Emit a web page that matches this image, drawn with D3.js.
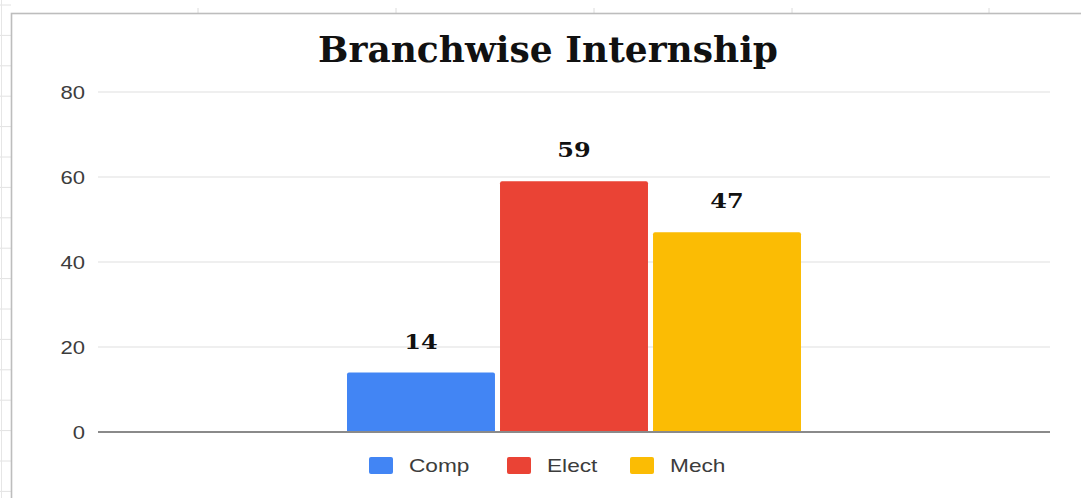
<!DOCTYPE html>
<html>
<head>
<meta charset="utf-8">
<script src="https://cdn.jsdelivr.net/npm/d3@7/dist/d3.min.js"></script>
<style>
  html, body { margin: 0; padding: 0; background: #fff; }
  svg { display: block; }
</style>
</head>
<body>
<svg id="chart" width="1081" height="498"></svg>
<script>
// ---- data ----
const title = "Branchwise Internship";
const categories = ["Comp", "Elect", "Mech"];
const values = [14, 59, 47];
const colors = ["#4285F4", "#EA4335", "#FBBC04"];
const yTicks = [0, 20, 40, 60, 80];

const svg = d3.select("#chart");
const W = 1081, H = 498;
const SX = 1.26; // horizontal stretch of the screenshot text

// ---- spreadsheet background ----
const bg = svg.append("g");
const rowYs = d3.range(5, 498, 30.4);
bg.selectAll("line.row").data(rowYs).join("line")
  .attr("x1", 0).attr("x2", 11).attr("y1", d => d).attr("y2", d => d)
  .attr("stroke", "#e2e2e2").attr("stroke-width", 1);
bg.append("line").attr("x1", 1.5).attr("x2", 1.5).attr("y1", 0).attr("y2", H)
  .attr("stroke", "#e6e6e6").attr("stroke-width", 1);
const colXs = [198, 396, 594, 792, 989];
bg.selectAll("line.col").data(colXs).join("line")
  .attr("x1", d => d).attr("x2", d => d).attr("y1", 8).attr("y2", 13)
  .attr("stroke", "#dcdcdc").attr("stroke-width", 1);
svg.append("rect").attr("x", 11.5).attr("y", 13.5).attr("width", W + 10).attr("height", H + 10)
  .attr("fill", "#fff").attr("stroke", "#bdbdbd").attr("stroke-width", 1.6);

// ---- scales ----
const plot = { left: 98, right: 1050, top: 92, bottom: 432 };
const y = d3.scaleLinear().domain([0, 80]).range([plot.bottom, plot.top]);
const x0 = d3.scaleBand().domain(["g"]).range([plot.left, plot.right]).paddingInner(0).paddingOuter(0.5485);
const x1 = d3.scaleBand().domain(categories).range([0, x0.bandwidth()]).paddingInner(0.033);

// ---- gridlines ----
const grid = svg.append("g");
grid.selectAll("line").data(yTicks.filter(t => t !== 0)).join("line")
  .attr("x1", plot.left).attr("x2", plot.right)
  .attr("y1", d => y(d)).attr("y2", d => y(d))
  .attr("stroke", "#e0e0e0").attr("stroke-width", 1.2);

// ---- y axis labels ----
const yAxis = d3.axisLeft(y).tickValues(yTicks).tickSize(0).tickPadding(0);
const ya = svg.append("g").attr("transform", `translate(85,0)`).call(yAxis);
ya.select(".domain").remove();
ya.selectAll(".tick text")
  .attr("x", 0)
  .attr("font-family", "'Liberation Sans', Arial, sans-serif")
  .attr("font-size", 17.5).attr("fill", "#3c3c3c").attr("dy", "0.36em")
  .attr("transform", `scale(${SX},1)`);

// ---- bars ----
const g = svg.append("g").attr("transform", `translate(${x0("g")},0)`);
g.selectAll("rect.bar").data(values).join("rect")
  .attr("class", "bar")
  .attr("x", (d, i) => x1(categories[i]))
  .attr("y", d => y(d))
  .attr("width", x1.bandwidth())
  .attr("height", d => y(0) - y(d))
  .attr("rx", 2).attr("ry", 2)
  .attr("fill", (d, i) => colors[i]);
g.selectAll("rect.bot").data(values).join("rect")
  .attr("class", "bot")
  .attr("x", (d, i) => x1(categories[i]))
  .attr("y", d => y(0) - Math.min(4, y(0) - y(d)))
  .attr("width", x1.bandwidth())
  .attr("height", d => Math.min(4, y(0) - y(d)))
  .attr("fill", (d, i) => colors[i]);

// value labels
g.selectAll("g.val").data(values).join("g")
  .attr("class", "val")
  .attr("transform", (d, i) => `translate(${x1(categories[i]) + x1.bandwidth() / 2},${y(d) - 24}) scale(1.2,1)`)
  .append("text")
  .attr("text-anchor", "middle")
  .attr("font-family", "'DejaVu Serif', 'Liberation Serif', serif")
  .attr("font-weight", "bold")
  .attr("font-size", 20)
  .attr("fill", "#111")
  .text(d => d);

// baseline
svg.append("line").attr("x1", plot.left).attr("x2", plot.right)
  .attr("y1", y(0)).attr("y2", y(0))
  .attr("stroke", "#8a8a8a").attr("stroke-width", 2);

// ---- title ----
const t = svg.append("text")
  .attr("x", 548).attr("y", 62)
  .attr("text-anchor", "middle")
  .attr("font-family", "'DejaVu Serif', 'Liberation Serif', serif")
  .attr("font-weight", "bold")
  .attr("font-size", 28)
  .attr("fill", "#111")
  .text(title);
const tw = t.node().getComputedTextLength();
t.attr("font-size", 28 * 460 / tw);

// ---- legend ----
const legendX = [369, 507, 630];
const lg = svg.append("g");
categories.forEach((c, i) => {
  lg.append("rect").attr("x", legendX[i]).attr("y", 457).attr("width", 24).attr("height", 17)
    .attr("rx", 2).attr("fill", colors[i]);
  lg.append("g").attr("transform", `translate(${legendX[i] + 40},472) scale(${SX},1)`)
    .append("text")
    .attr("font-family", "'Liberation Sans', Arial, sans-serif")
    .attr("font-size", 18).attr("fill", "#3c3c3c")
    .text(c);
});
</script>
</body>
</html>
